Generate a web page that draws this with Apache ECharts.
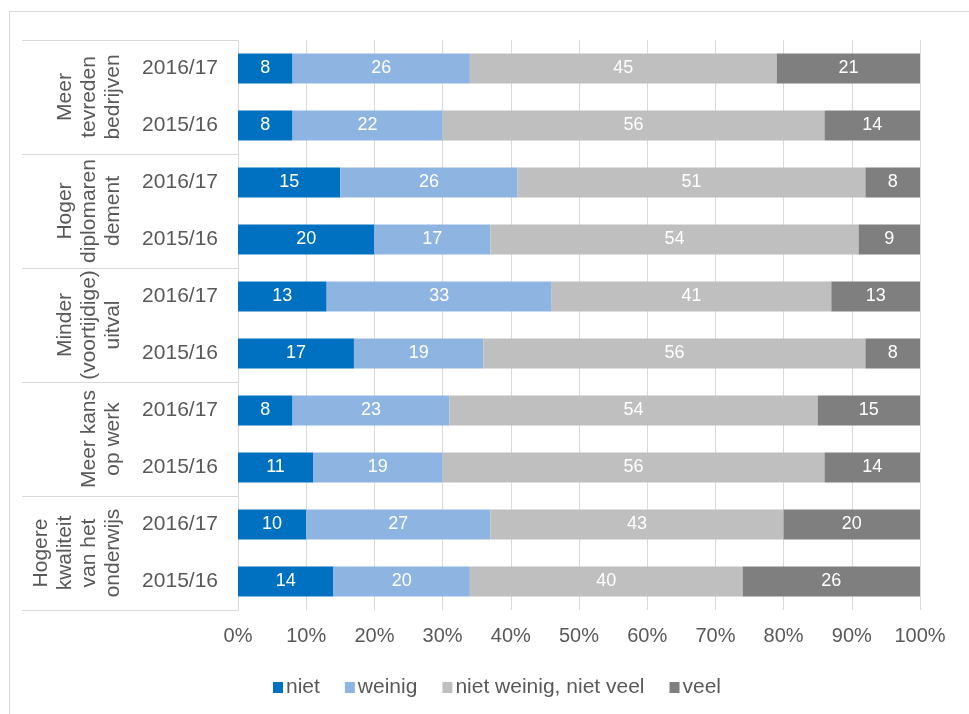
<!DOCTYPE html>
<html>
<head>
<meta charset="utf-8">
<script src="https://cdn.jsdelivr.net/npm/echarts@6/dist/echarts.min.js"></script>
<style>
html,body{margin:0;padding:0;background:#fff;overflow:hidden;}
#frame{position:absolute;left:9px;top:11px;width:2000px;height:2000px;border-left:1px solid #d9d9d9;border-top:1px solid #d9d9d9;}
#chart{position:absolute;left:0;top:0;width:969px;height:714px;}
</style>
</head>
<body>
<div id="frame"></div>
<div id="chart"></div>
<script>
// Rows, top to bottom
const years = ['2016/17','2015/16','2016/17','2015/16','2016/17','2015/16','2016/17','2015/16','2016/17','2015/16'];
const groups = ['Meer\ntevreden\nbedrijven','Hoger\ndiplomaren\ndement','Minder\n(voortijdige)\nuitval','Meer kans\nop werk','Hogere\nkwaliteit\nvan het\nonderwijs'];
const seriesNames = ['niet','weinig','niet weinig, niet veel','veel'];
const niet   = [8, 8, 15, 20, 13, 17, 8, 11, 10, 14];
const weinig = [26, 22, 26, 17, 33, 19, 23, 19, 27, 20];
const neutraal = [45, 56, 51, 54, 41, 56, 54, 56, 43, 40];
const veel   = [21, 14, 8, 9, 13, 8, 15, 14, 20, 26];
const xTicks = [0,10,20,30,40,50,60,70,80,90,100];

const colors = ['#0070C0','#8EB4E2','#BFBFBF','#7F7F7F'];
const values = [niet, weinig, neutraal, veel];
const font = 'Arial, "Liberation Sans", sans-serif';

const chart = echarts.init(document.getElementById('chart'));
chart.setOption({
  animation:false,
  textStyle:{fontFamily:font},
  grid:{left:238,right:49,top:40,bottom:104,containLabel:false,outerBoundsMode:'none'},
  legend:{
    data:seriesNames, top:672, left:268, icon:'rect', itemWidth:10, itemHeight:11, itemGap:25,
    textStyle:{color:'#595959',fontSize:21,fontFamily:font,padding:[0,0,0,-2]}
  },
  xAxis:{
    type:'value', min:xTicks[0], max:xTicks[xTicks.length-1], interval:10,
    axisLine:{show:false}, axisTick:{show:false},
    splitLine:{show:true,lineStyle:{color:'#d9d9d9',width:1}},
    axisLabel:{formatter:'{value}%',color:'#595959',fontSize:20,margin:16,fontFamily:font}
  },
  yAxis:[{
    type:'category', data:years, inverse:true, position:'left',
    axisLine:{show:true,lineStyle:{color:'#d9d9d9'}},
    axisTick:{show:false},
    axisLabel:{interval:0,color:'#595959',fontSize:21,margin:20,fontFamily:font}
  },{
    type:'category', data:groups, inverse:true, position:'left', offset:0,
    axisLine:{show:false},
    axisTick:{show:true,length:216,lineStyle:{color:'#d9d9d9',width:1}},
    axisLabel:{interval:0,rotate:90,color:'#595959',fontSize:21,lineHeight:24,margin:113,fontFamily:font}
  }],
  series: seriesNames.map((n,i)=>({
    name:n, type:'bar', stack:'total', yAxisIndex:0, data:values[i], barWidth:30,
    itemStyle:{color:colors[i]},
    label:{show:true,position:'inside',color:'#ffffff',fontSize:18,fontFamily:font}
  }))
});
</script>
</body>
</html>
